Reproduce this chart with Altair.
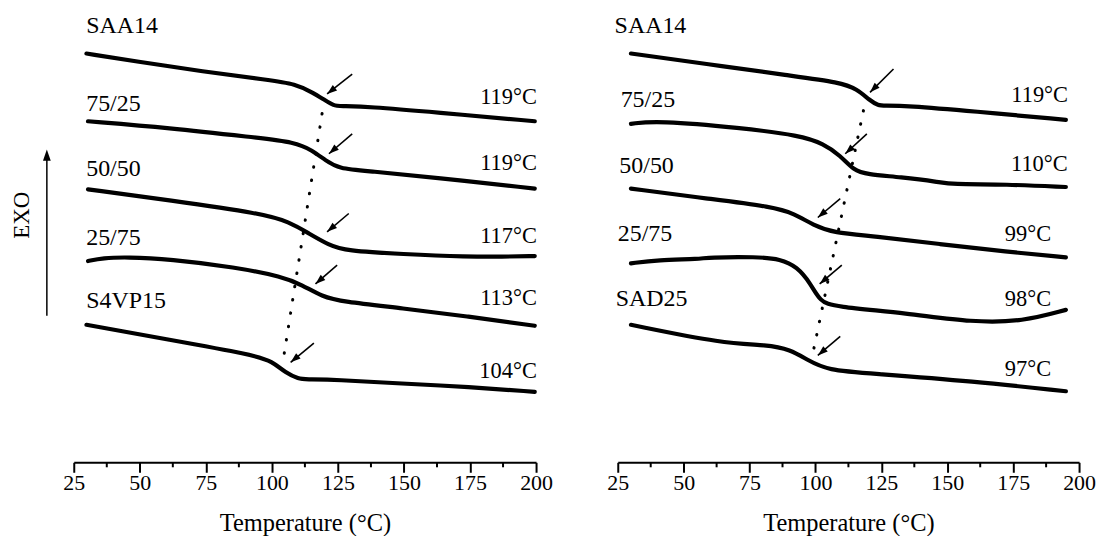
import math
import altair as alt
import pandas as pd

FONT = "Liberation Serif"

# ---------------- axis ticks ----------------
temp_ticks = [25, 50, 75, 100, 125, 150, 175, 200]
minor_ticks = [37.5, 62.5, 87.5, 112.5, 137.5, 162.5, 187.5]

# ---------------- left panel curves (Temperature, heat flow a.u.) ----------------
L_samples = ["SAA14", "75/25", "50/50", "25/75", "S4VP15"]
L_SAA14_T = [29.8, 48.6, 73.8, 98.9, 109.0, 115.3, 120.3, 123.5, 125.5, 136.7, 161.8, 199.5]
L_SAA14_Y = [41.03, 40.23, 39.23, 38.37, 37.97, 37.13, 36.30, 35.80, 35.75, 35.70, 35.13, 34.23]
L_7525_T = [30.4, 61.2, 92.6, 109.0, 115.3, 120.3, 125.3, 136.7, 161.8, 199.5]
L_7525_Y = [34.23, 33.57, 32.63, 32.13, 31.30, 30.30, 29.47, 29.23, 28.57, 27.47]
L_5050_T = [30.4, 61.2, 96.4, 106.5, 114.0, 121.6, 127.9, 149.2, 174.4, 186.9, 199.5]
L_5050_Y = [27.40, 26.30, 24.97, 24.13, 22.97, 21.80, 21.23, 20.90, 20.63, 20.63, 20.70]
L_2575_T = [30.4, 36.0, 45.0, 61.2, 86.4, 104.0, 111.5, 119.0, 126.6, 149.2, 174.4, 199.5]
L_2575_Y = [20.20, 20.50, 20.60, 20.40, 19.57, 18.63, 17.80, 16.63, 16.13, 15.47, 14.63, 13.70]
L_S4VP15_T = [29.8, 61.2, 92.6, 100.2, 105.2, 110.3, 112.5, 124.1, 149.2, 174.4, 199.5]
L_S4VP15_Y = [13.80, 12.30, 10.80, 10.13, 8.97, 8.37, 8.33, 8.30, 7.90, 7.57, 7.07]
L_tg_labels = ["119°C", "119°C", "117°C", "113°C", "104°C"]

# ---------------- right panel curves ----------------
R_samples = ["SAA14", "75/25", "50/50", "25/75", "SAD25"]
R_SAA14_T = [30.0, 59.0, 90.5, 109.4, 115.7, 120.7, 123.9, 125.9, 134.6, 159.8, 195.0]
R_SAA14_Y = [41.03, 39.97, 38.80, 38.13, 37.47, 36.30, 35.80, 35.80, 35.80, 35.23, 34.37]
R_7525_T = [30.0, 40.1, 71.6, 94.3, 103.1, 109.4, 114.5, 119.5, 132.1, 147.2, 151.0, 172.4, 195.0]
R_7525_Y = [33.97, 34.30, 33.57, 32.80, 31.97, 30.80, 29.30, 28.90, 28.63, 28.13, 27.90, 27.90, 27.63]
R_5050_T = [30.0, 59.0, 84.2, 91.8, 99.3, 106.9, 122.0, 147.2, 172.4, 195.0]
R_5050_Y = [27.47, 26.47, 25.63, 24.97, 23.80, 23.03, 22.70, 21.90, 21.13, 20.57]
R_2575_T = [30.0, 40.1, 56.5, 59.0, 77.9, 86.7, 93.0, 98.1, 101.8, 106.9, 134.6, 159.8, 178.7, 195.0]
R_2575_Y = [19.97, 20.30, 20.40, 20.57, 20.63, 20.40, 19.63, 17.97, 16.13, 15.63, 14.97, 14.03, 14.13, 15.30]
R_SAD25_T = [30.0, 65.3, 81.7, 90.5, 96.8, 104.4, 122.0, 159.8, 195.0]
R_SAD25_Y = [13.80, 11.90, 11.80, 11.30, 10.30, 9.23, 8.90, 8.13, 7.13]
R_tg_labels = ["119°C", "110°C", "99°C", "98°C", "97°C"]

# ---------------- annotation anchors (data coordinates) ----------------
# arrows: head (T, y) and tail (T, y)
L_arrow_head_T = [120.9, 121.6, 120.9, 116.5, 107.1]
L_arrow_head_Y = [36.97, 30.97, 23.13, 17.90, 10.03]
L_arrow_tail_T = [130.4, 130.4, 129.1, 124.7, 115.9]
L_arrow_tail_Y = [38.97, 32.97, 24.97, 19.80, 11.97]
R_arrow_head_T = [120.7, 111.3, 100.9, 101.6, 100.9]
R_arrow_head_Y = [37.13, 30.97, 24.57, 17.90, 10.73]
R_arrow_tail_T = [129.6, 119.5, 109.4, 110.0, 109.4]
R_arrow_tail_Y = [39.47, 32.97, 26.47, 19.80, 12.63]
# dotted guide lines
L_dot_T = [119.0, 104.0]
L_dot_Y = [35.0, 9.8]
R_dot_T = [118.2, 99.3]
R_dot_Y = [35.3, 11.3]
# sample names (left aligned) and Tg values (right aligned)
L_name_T = [29.7, 29.7, 29.7, 29.7, 29.7]
L_name_Y = [43.1, 35.3, 28.7, 21.8, 15.5]
L_tg_T = [200.3, 200.3, 200.3, 200.3, 200.3]
L_tg_Y = [36.0, 29.3, 22.0, 15.8, 8.5]
R_name_T = [23.8, 26.1, 25.6, 25.0, 24.2]
R_name_Y = [43.1, 35.7, 29.0, 22.2, 15.7]
R_tg_T = [195.8, 195.7, 189.4, 189.4, 189.4]
R_tg_Y = [36.2, 29.2, 22.2, 15.7, 8.7]

exo_label = ["EXO"]

W_L, W_R, H = 464, 463, 455
Y_MAX = 45.5
ARROW_PATH = "M0,0L-0.45,1.3L0.45,1.3Z"


def curves_df(samples, Ts, Ys):
    rows = []
    for s, tt, yy in zip(samples, Ts, Ys):
        for i, (t, y) in enumerate(zip(tt, yy)):
            rows.append({"sample": s, "T": t, "y": y, "i": i})
    return pd.DataFrame(rows)


def arrows_df(hT, hY, tT, tY, width):
    pxT = width / 175.0
    pxY = H / Y_MAX
    rows = []
    for a, b, c, d in zip(hT, hY, tT, tY):
        dx = (a - c) * pxT
        dy = -(b - d) * pxY
        ang = math.degrees(math.atan2(dx, -dy)) % 360
        rows.append({"hT": a, "hY": b, "tT": c, "tY": d, "ang": ang})
    return pd.DataFrame(rows)


def panel(samples, Ts, Ys, arrows, dT, dY, nT, nY, tgT, tgY, tg_labels, width, exo=False):
    xs = alt.Scale(domain=[25, 200], nice=False, zero=False)
    ys = alt.Scale(domain=[0, Y_MAX], nice=False, zero=False)
    ax = alt.Axis(values=temp_ticks, title="Temperature (°C)", grid=False,
                  tickSize=10, tickWidth=2, tickColor="black",
                  domainWidth=2, domainColor="black",
                  labelFont=FONT, labelFontSize=22, labelColor="black",
                  labelPadding=0, labelFlush=False, labelOverlap=False, labelBound=False,
                  titleFont=FONT, titleFontSize=24.5, titleFontWeight="normal",
                  titleColor="black", titlePadding=18, format="d")

    def X(f):
        return alt.X(f, type="quantitative", scale=xs, axis=ax)

    def Y(f):
        return alt.Y(f, type="quantitative", scale=ys, axis=None)

    cdf = curves_df(samples, Ts, Ys)
    lines = alt.Chart(cdf).mark_line(color="black", strokeWidth=4.2, interpolate="basis",
                                     strokeCap="round", strokeJoin="round").encode(
        x=X("T"), y=Y("y"), detail="sample:N", order="i:Q")

    ddf = pd.DataFrame({"T": dT, "y": dY, "i": list(range(len(dT)))})
    dotted = alt.Chart(ddf).mark_line(color="black", strokeWidth=3, strokeDash=[0.5, 13],
                                      strokeCap="round").encode(x=X("T"), y=Y("y"), order="i:Q")

    shafts = alt.Chart(arrows).mark_rule(color="black", strokeWidth=1.6).encode(
        x=X("tT"), y=Y("tY"), x2="hT:Q", y2="hY:Q")
    heads = alt.Chart(arrows).mark_point(shape=ARROW_PATH, filled=True, color="black",
                                         opacity=1, size=240, strokeWidth=0).encode(
        x=X("hT"), y=Y("hY"), angle=alt.Angle("ang:Q", scale=None))

    names = pd.DataFrame({"T": nT, "y": nY, "label": samples})
    name_text = alt.Chart(names).mark_text(font=FONT, fontSize=24, align="left",
                                           baseline="alphabetic", color="black").encode(
        x=X("T"), y=Y("y"), text="label:N")
    tgs = pd.DataFrame({"T": tgT, "y": tgY, "label": tg_labels})
    tg_text = alt.Chart(tgs).mark_text(font=FONT, fontSize=22.5, align="right",
                                       baseline="alphabetic", color="black").encode(
        x=X("T"), y=Y("y"), text="label:N")

    minor = alt.Chart(pd.DataFrame({"m": minor_ticks})).mark_rule(
        color="black", strokeWidth=2).encode(x=X("m"), y=alt.value(H), y2=alt.value(H + 5))

    layers = [lines, dotted, shafts, heads, name_text, tg_text, minor]

    if exo:
        edf = pd.DataFrame({"label": exo_label})
        exo_text = alt.Chart(edf).mark_text(font=FONT, fontSize=23, angle=270, align="center",
                                            baseline="middle", color="black").encode(
            x=alt.value(-52), y=alt.value(207), text="label:N")
        exo_line = alt.Chart(edf).mark_rule(color="black", strokeWidth=1.5).encode(
            x=alt.value(-27), y=alt.value(150), y2=alt.value(308))
        exo_head = alt.Chart(edf).mark_point(shape=ARROW_PATH, filled=True, color="black",
                                             opacity=1, size=300, strokeWidth=0).encode(
            x=alt.value(-27), y=alt.value(141))
        bound = alt.Chart(edf).mark_rule(color="white", strokeWidth=1, opacity=0).encode(
            x=alt.value(-65.5), y=alt.value(100), y2=alt.value(110))
        layers += [exo_text, exo_line, exo_head, bound]

    return alt.layer(*layers).properties(width=width, height=H)


left = panel(L_samples,
             [L_SAA14_T, L_7525_T, L_5050_T, L_2575_T, L_S4VP15_T],
             [L_SAA14_Y, L_7525_Y, L_5050_Y, L_2575_Y, L_S4VP15_Y],
             arrows_df(L_arrow_head_T, L_arrow_head_Y, L_arrow_tail_T, L_arrow_tail_Y, W_L),
             L_dot_T, L_dot_Y, L_name_T, L_name_Y, L_tg_T, L_tg_Y, L_tg_labels, W_L, exo=True)
right = panel(R_samples,
              [R_SAA14_T, R_7525_T, R_5050_T, R_2575_T, R_SAD25_T],
              [R_SAA14_Y, R_7525_Y, R_5050_Y, R_2575_Y, R_SAD25_Y],
              arrows_df(R_arrow_head_T, R_arrow_head_Y, R_arrow_tail_T, R_arrow_tail_Y, W_R),
              R_dot_T, R_dot_Y, R_name_T, R_name_Y, R_tg_T, R_tg_Y, R_tg_labels, W_R)

chart = alt.hconcat(left, right, spacing=82, bounds="flush").properties(
    padding=0, background="white"
).configure_view(strokeWidth=0)

chart.save("out.html", embed_options={"renderer": "svg", "actions": False})
